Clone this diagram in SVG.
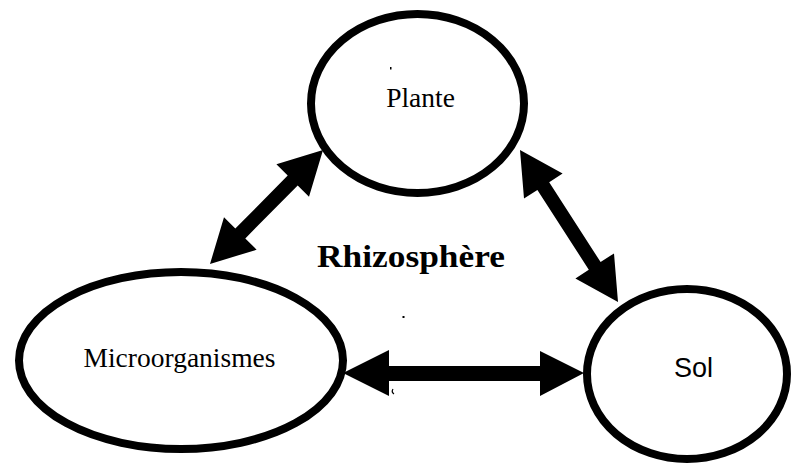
<svg xmlns="http://www.w3.org/2000/svg" width="794" height="464" viewBox="0 0 794 464">
<style>
.node{fill:#fff;stroke:#000;stroke-width:8}
.serif{font-family:"Liberation Serif","Times New Roman",serif;fill:#000}
.sans{font-family:"Liberation Sans",Arial,sans-serif;fill:#000}
.arrow{fill:#000;stroke:none}
</style>
<rect width="794" height="464" fill="#fff"/>
<g id="connectors">
<polygon class="arrow" points="323,150 309,196.7 297.7,185.4 245.3,238.4 256.6,249.7 210,264 224,217.3 235.3,228.6 287.7,175.6 276.4,164.3"/>
<polygon class="arrow" points="520,150 562.6,173.6 549.2,182.3 600.6,262.1 614,253.4 618,302 575.4,278.4 588.8,269.7 537.4,189.9 524,198.6"/>
<polygon class="arrow" points="343,373 389,350 389,366 540,366 540,351 584,373 540,396 540,381 389,381 389,396"/>
</g>
<g id="plante">
<ellipse class="node" cx="417.5" cy="103.5" rx="106.5" ry="89.5"/>
<text class="serif" x="420.5" y="107" font-size="27.5" text-anchor="middle">Plante</text>
</g>
<g id="microorganismes">
<ellipse class="node" cx="181" cy="360.5" rx="162" ry="88.5"/>
<text class="serif" x="179.5" y="367" font-size="27.5" text-anchor="middle">Microorganismes</text>
</g>
<g id="sol">
<ellipse class="node" cx="687" cy="374" rx="100" ry="85"/>
<text class="sans" x="693.5" y="377" font-size="27" text-anchor="middle">Sol</text>
</g>
<g id="rhizosphere">
<text class="serif" x="317" y="267" font-size="31" font-weight="bold" textLength="188" lengthAdjust="spacingAndGlyphs">Rhizosphère</text>
</g>
<g id="specks" fill="#000">
<rect x="390" y="67" width="1.5" height="2.5"/>
<rect x="402.5" y="316" width="2" height="2"/>
<path d="M393,389 q-2,3 1,5" fill="none" stroke="#000" stroke-width="1.2"/>
</g>
</svg>
